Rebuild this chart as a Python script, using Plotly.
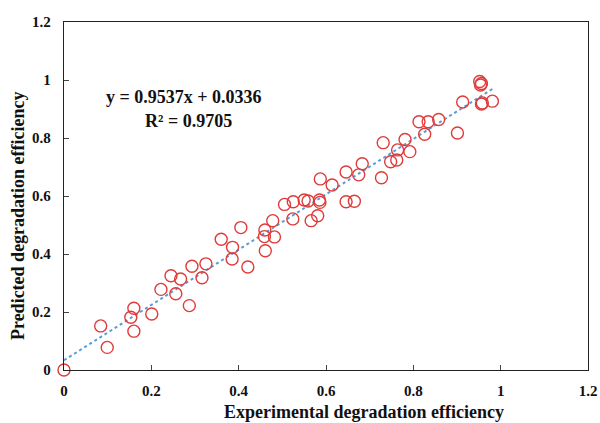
import plotly.graph_objects as go

experimental = [0.0, 0.084, 0.099, 0.160, 0.153, 0.160, 0.201, 0.222, 0.245, 0.267,
                0.256, 0.287, 0.293, 0.325, 0.316, 0.360, 0.386, 0.385, 0.421, 0.405,
                0.460, 0.459, 0.482, 0.478, 0.461, 0.505, 0.525, 0.524, 0.550, 0.559,
                0.585, 0.586, 0.566, 0.581, 0.587, 0.614, 0.646, 0.675, 0.683, 0.646,
                0.665, 0.727, 0.731, 0.748, 0.762, 0.764, 0.781, 0.792, 0.813, 0.834,
                0.858, 0.826, 0.901, 0.913, 0.952, 0.956, 0.954, 0.956, 0.958, 0.981]
predicted = [0.0, 0.152, 0.078, 0.213, 0.182, 0.134, 0.193, 0.278, 0.325, 0.314,
             0.263, 0.222, 0.358, 0.366, 0.318, 0.451, 0.423, 0.383, 0.355, 0.491,
             0.483, 0.460, 0.459, 0.515, 0.411, 0.571, 0.580, 0.521, 0.586, 0.583,
             0.586, 0.578, 0.515, 0.532, 0.659, 0.638, 0.683, 0.673, 0.711, 0.580,
             0.582, 0.663, 0.784, 0.718, 0.724, 0.759, 0.795, 0.753, 0.856, 0.856,
             0.864, 0.813, 0.817, 0.924, 0.995, 0.988, 0.983, 0.917, 0.921, 0.927]

slope = 0.9537
intercept = 0.0336
fit_x = [0.0, max(experimental)]
fit_y = [slope * v + intercept for v in fit_x]

tick_vals = [0, 0.2, 0.4, 0.6, 0.8, 1, 1.2]
tick_text = ["0", "0.2", "0.4", "0.6", "0.8", "1", "1.2"]

font_family = "Liberation Serif"

fig = go.Figure()
fig.add_trace(go.Scatter(
    x=fit_x, y=fit_y, mode="lines",
    line=dict(color="#5B9BD5", width=2, dash="dot"),
    showlegend=False, hoverinfo="skip"))
fig.add_trace(go.Scatter(
    x=experimental, y=predicted, mode="markers",
    marker=dict(symbol="circle-open", size=12, color="#E03A3A", line=dict(width=1.4, color="#E03A3A")),
    showlegend=False, cliponaxis=False))

axis_common = dict(
    range=[0, 1.2], tickvals=tick_vals, ticktext=["<b>%s</b>" % t for t in tick_text],
    showline=True, mirror=True, linecolor="#222222", linewidth=1.4,
    ticks="inside", ticklen=5, tickcolor="#444444", tickwidth=1,
    showgrid=False, zeroline=False, automargin=False,
    tickfont=dict(family=font_family, size=15, color="#111111"),
)

fig.update_xaxes(**axis_common, ticklabelstandoff=7)
fig.update_yaxes(**axis_common, ticklabelstandoff=9)

bold = "<b>%s</b>"
fig.add_annotation(x=0.275, y=0.941, xref="x", yref="y", showarrow=False,
                   text=bold % "y = 0.9537x + 0.0336",
                   font=dict(family=font_family, size=18, color="#111111"))
fig.add_annotation(x=0.285, y=0.859, xref="x", yref="y", showarrow=False,
                   text=bold % "R² = 0.9705",
                   font=dict(family=font_family, size=18, color="#111111"))
fig.add_annotation(x=0.573, y=-0.12, xref="paper", yref="paper", showarrow=False,
                   xanchor="center", yanchor="middle",
                   text=bold % "Experimental degradation efficiency",
                   font=dict(family=font_family, size=18, color="#111111"))
fig.add_annotation(x=-0.088, y=0.445, xref="paper", yref="paper", showarrow=False,
                   xanchor="center", yanchor="middle", textangle=-90,
                   text=bold % "Predicted degradation efficiency",
                   font=dict(family=font_family, size=18, color="#111111"))

fig.update_layout(
    width=600, height=423,
    margin=dict(l=64, r=12, t=22, b=53),
    plot_bgcolor="white", paper_bgcolor="white",
    font=dict(family=font_family, color="#111111"),
)

fig.write_html("out.html")
